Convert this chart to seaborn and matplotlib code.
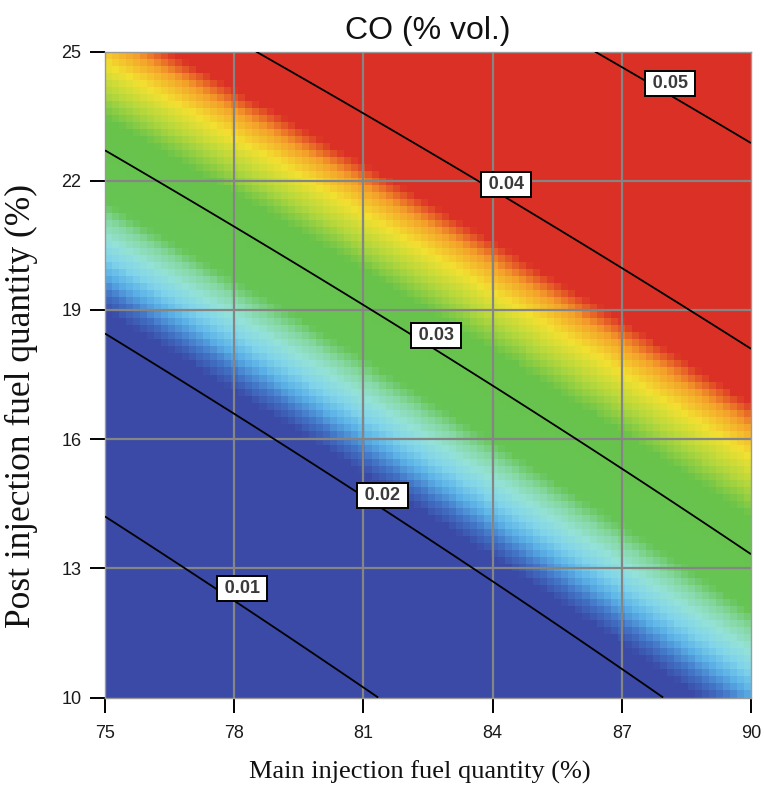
import numpy as np
import matplotlib
matplotlib.use("Agg")
import matplotlib.pyplot as plt
import seaborn as sns
from matplotlib.colors import LinearSegmentedColormap

# ---------------- data ----------------
main_ticks = [75, 78, 81, 84, 87, 90]
post_ticks = [10, 13, 16, 19, 22, 25]
# CO (% vol.) at the grid intersections, one list per post-injection level,
# values ordered by main injection 75 .. 90
co_p10 = [0.0000, 0.0046, 0.0093, 0.0140, 0.0187, 0.0230]
co_p13 = [0.0071, 0.0118, 0.0164, 0.0210, 0.0251, 0.0294]
co_p16 = [0.0142, 0.0189, 0.0232, 0.0274, 0.0314, 0.0354]
co_p19 = [0.0213, 0.0257, 0.0296, 0.0338, 0.0377, 0.0416]
co_p22 = [0.0284, 0.0325, 0.0364, 0.0403, 0.0442, 0.0482]
co_p25 = [0.0354, 0.0393, 0.0431, 0.0469, 0.0509, 0.0549]
contour_levels = [0.01, 0.02, 0.03, 0.04, 0.05]
label_main = [78.18, 81.45, 82.69, 84.31, 88.12]
label_post = [12.54, 14.70, 18.41, 21.92, 24.25]

title = "CO (% vol.)"
xlabel = "Main injection fuel quantity (%)"
ylabel = "Post injection fuel quantity (%)"

# ---------------- response surface (quadratic fit of grid values) ----------------
grid_vals = np.array([co_p10, co_p13, co_p16, co_p19, co_p22, co_p25])
MM, PP = np.meshgrid(main_ticks, post_ticks)
m0, p0 = 82.5, 17.5


def feats(m, p):
    a = (np.asarray(m) - m0) / 7.5
    b = (np.asarray(p) - p0) / 7.5
    return np.stack([np.ones_like(a), a, b, a * a, b * b, a * b], axis=-1)


coef, *_ = np.linalg.lstsq(feats(MM.ravel(), PP.ravel()), grid_vals.ravel(), rcond=None)


def model(m, p):
    return feats(m, p) @ coef


mmin, mmax = main_ticks[0], main_ticks[-1]
pmin, pmax = post_ticks[0], post_ticks[-1]
N = 92  # heatmap resolution
mc = mmin + (np.arange(N) + 0.5) * (mmax - mmin) / N
pc = pmin + (np.arange(N) + 0.5) * (pmax - pmin) / N
MC, PC = np.meshgrid(mc, pc)
Zc = model(MC, PC)[::-1]  # top row = highest post value


def fx(m):
    return (np.asarray(m) - mmin) / (mmax - mmin) * N


def fy(p):
    return (pmax - np.asarray(p)) / (pmax - pmin) * N


# ---------------- colours ----------------
vmin, vmax = 0.020, 0.0385
nodes = [
    (0.0200, "#3A4AA6"),
    (0.0212, "#3A4AA6"),
    (0.0222, "#4274C6"),
    (0.0232, "#5AB0E6"),
    (0.0242, "#80D4EA"),
    (0.0252, "#94E2D8"),
    (0.0262, "#86D8A4"),
    (0.0272, "#66C454"),
    (0.0318, "#68C34A"),
    (0.0334, "#B8D83C"),
    (0.0348, "#F2E030"),
    (0.0362, "#F4A02A"),
    (0.0374, "#DB3025"),
    (0.0385, "#DB3025"),
]
cmap = LinearSegmentedColormap.from_list(
    "co", [((v - vmin) / (vmax - vmin), c) for v, c in nodes])

# ---------------- figure ----------------
sns.set_theme(style="white")
plt.rcParams["font.family"] = ["Liberation Sans", "DejaVu Sans"]

fig = plt.figure(figsize=(7.64, 7.88), dpi=100)
ax = fig.add_axes([105 / 764, 1 - 697.5 / 788, 646 / 764, 646 / 788])

sns.heatmap(Zc, cmap=cmap, vmin=vmin, vmax=vmax, cbar=False, ax=ax,
            xticklabels=False, yticklabels=False, square=False)

# grid lines
for m in main_ticks[1:-1]:
    ax.axvline(fx(m), color="#858585", lw=1.6, zorder=2)
for p in post_ticks[1:-1]:
    ax.axhline(fy(p), color="#858585", lw=1.6, zorder=2)

# contours
mf = np.linspace(mmin, mmax, 301)
pf = np.linspace(pmin, pmax, 301)
MF, PF = np.meshgrid(mf, pf)
ZF = model(MF, PF)
ax.contour(fx(MF), fy(PF), ZF, levels=contour_levels, colors="black",
           linewidths=1.3, zorder=3)
for lev, lm, lp in zip(contour_levels, label_main, label_post):
    ax.text(fx(lm), fy(lp), f"\u2009{lev:.2f}\u2009", ha="center", va="center",
            fontsize=13, fontweight="bold", color="#3a3a3a", zorder=6,
            bbox=dict(boxstyle="square,pad=0.22", fc="white", ec="black", lw=1.4))

# ticks
ax.set_xticks(fx(main_ticks))
ax.set_xticklabels([str(m) for m in main_ticks], rotation=0)
ax.set_yticks(fy(post_ticks))
ax.set_yticklabels([str(p) for p in post_ticks], rotation=0)
ax.tick_params(axis="both", direction="out", length=11, width=1.4,
               color="black", labelsize=13, labelcolor="#1a1a1a")
ax.tick_params(axis="x", pad=9, bottom=True)
ax.tick_params(axis="y", pad=6, left=True)
ax.set_xlim(0, N)
ax.set_ylim(N, 0)

for s in ax.spines.values():
    s.set_visible(True)
    s.set_color("#9a9a9a")
    s.set_linewidth(1.0)

ax.set_title(title, fontsize=23, pad=9, color="#111111")
ax.set_xlabel(xlabel, fontsize=19, family=["Liberation Serif", "DejaVu Serif"],
              color="#111111")
ax.set_ylabel(ylabel, fontsize=25.5, family=["Liberation Serif", "DejaVu Serif"],
              color="#111111")
ax.xaxis.set_label_coords(0.487, -0.097)
ax.yaxis.set_label_coords(-0.103, 0.452)

fig.savefig("out.png", dpi=100)
